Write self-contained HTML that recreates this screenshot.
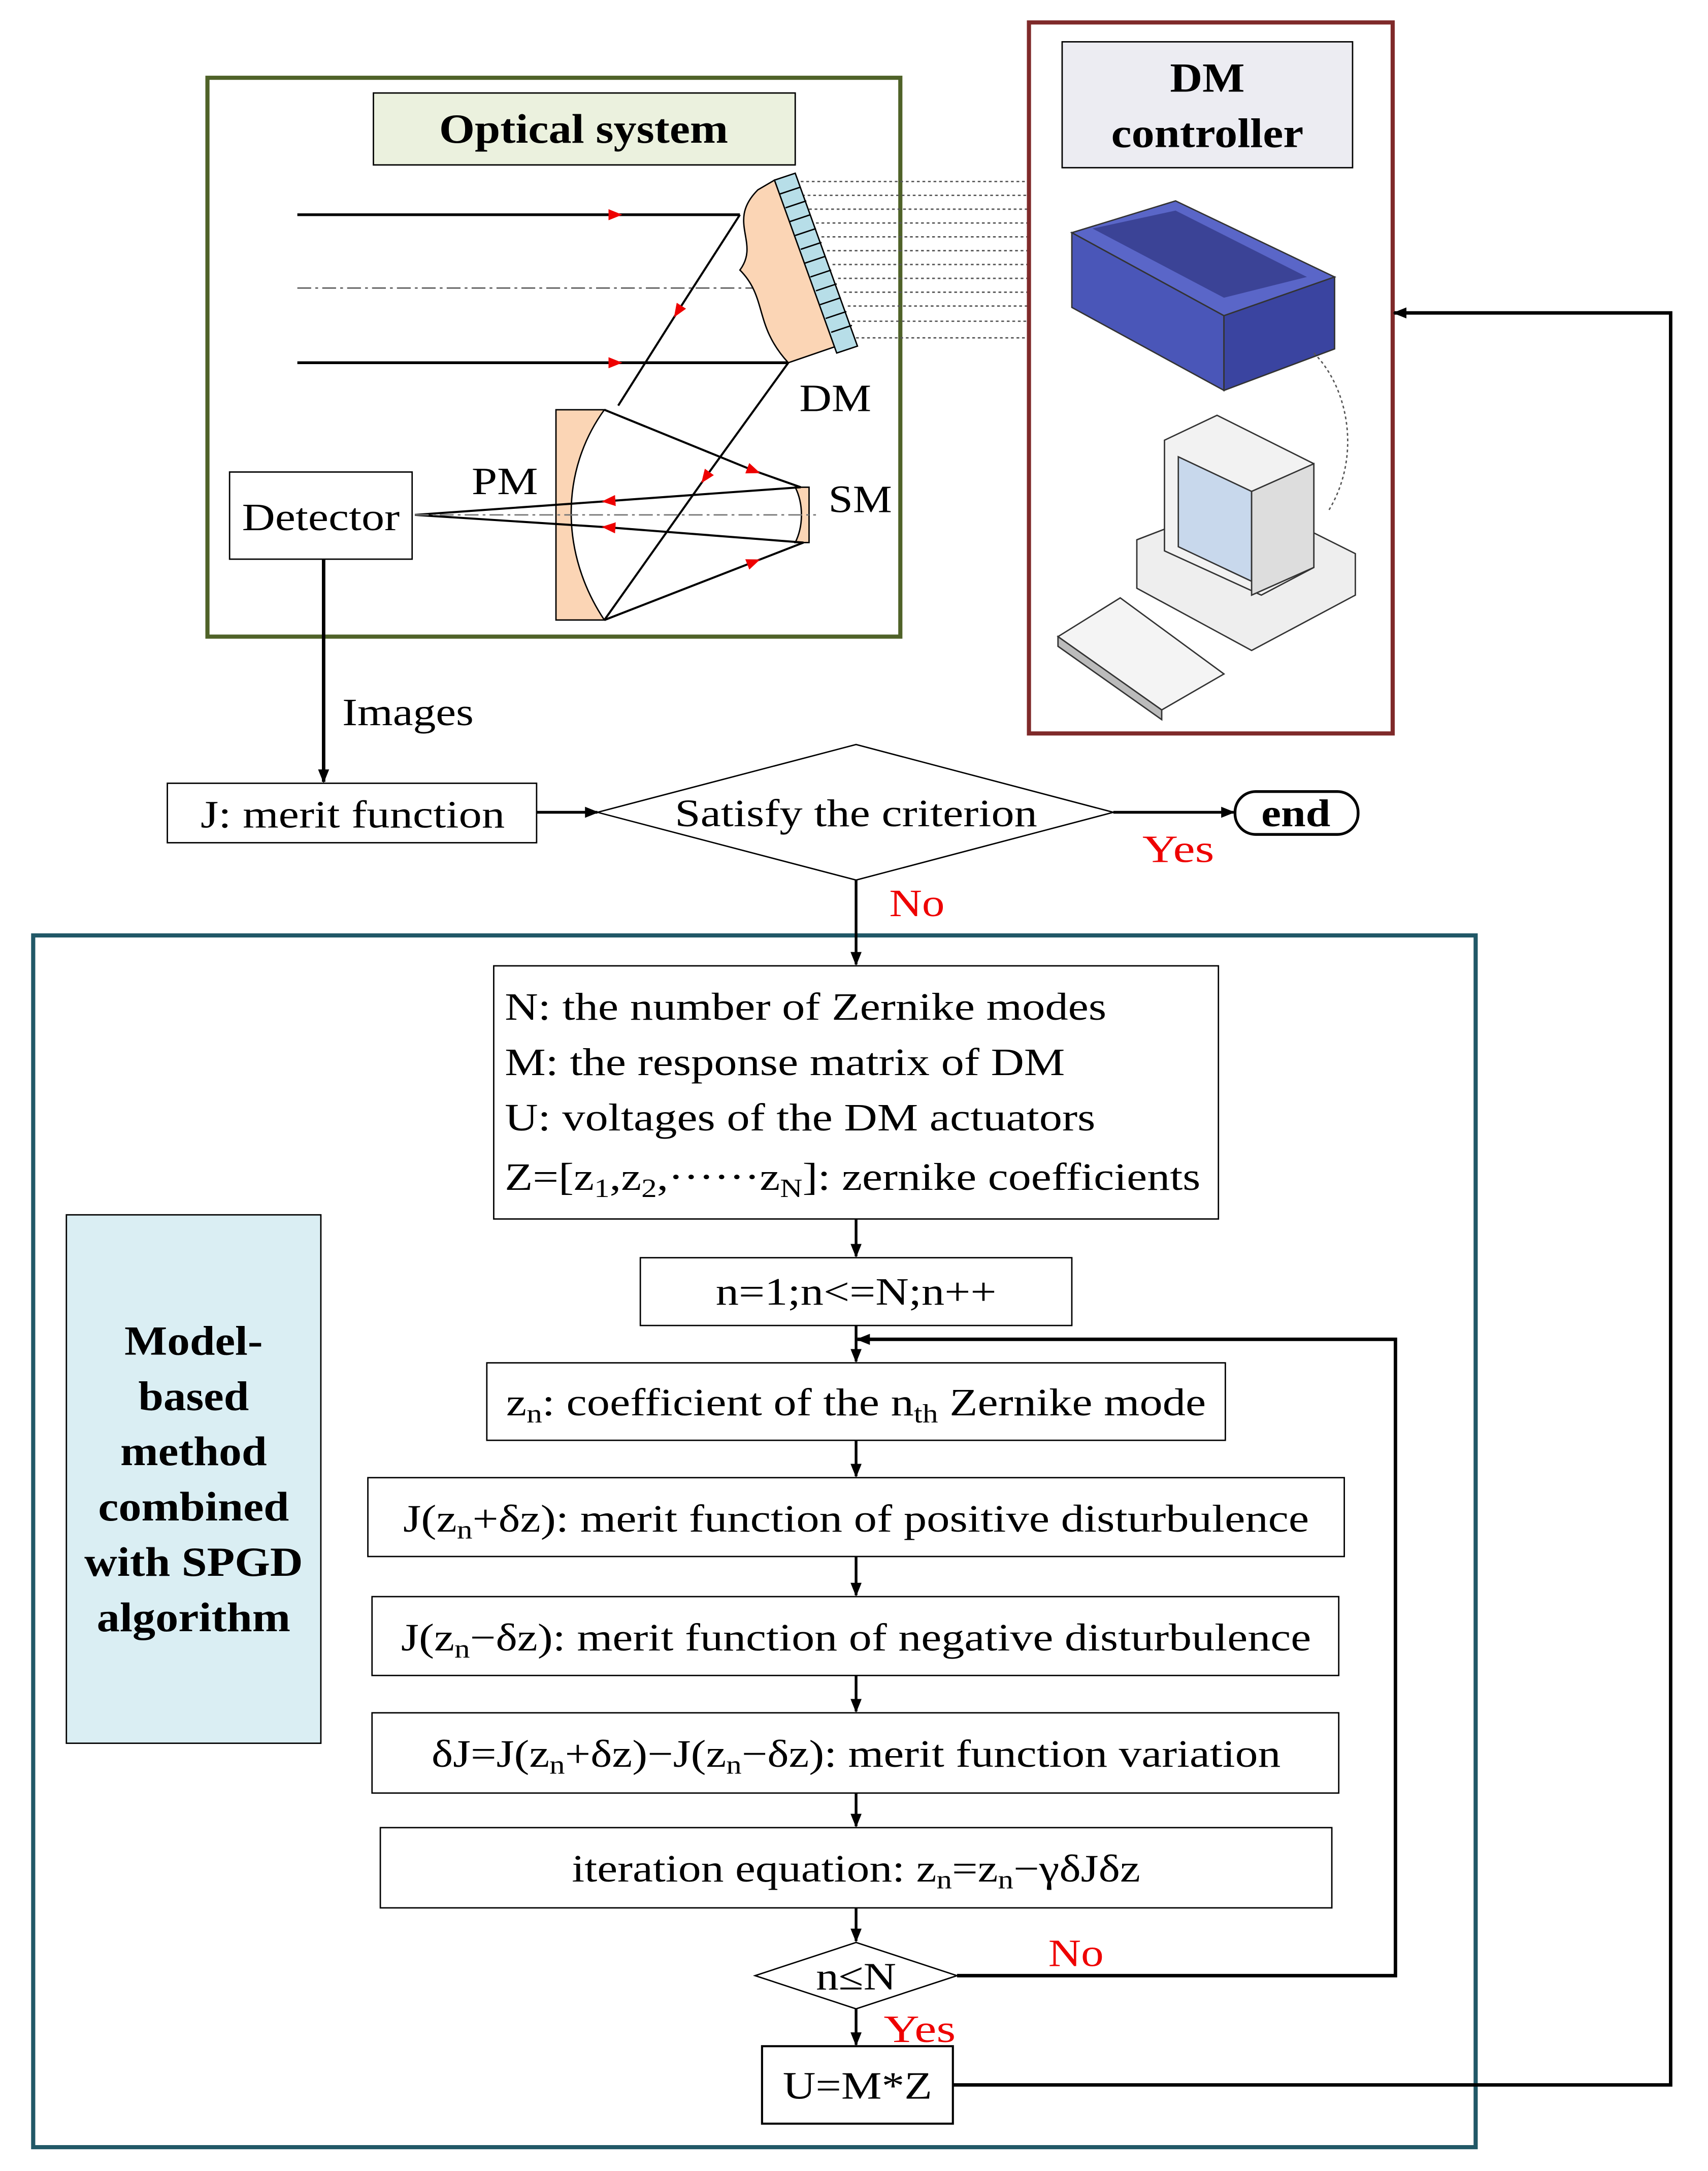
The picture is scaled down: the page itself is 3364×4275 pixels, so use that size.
<!DOCTYPE html>
<html><head><meta charset="utf-8"><style>
html,body{margin:0;padding:0;background:#fff}
svg{display:block}
text{font-family:"Liberation Serif",serif}
</style></head><body>
<svg width="3364" height="4275" viewBox="0 0 1235 1569" xmlns="http://www.w3.org/2000/svg">
<defs>
<marker id="a" markerWidth="10" markerHeight="10" refX="9" refY="5" orient="auto" markerUnits="userSpaceOnUse"><path d="M0,1 L10,5 L0,9 z" fill="#000"/></marker>
<marker id="r" markerWidth="10" markerHeight="8" refX="5" refY="4" orient="auto" markerUnits="userSpaceOnUse"><path d="M0,0 L10,4 L0,8 z" fill="#e00"/></marker>
</defs>
<rect width="1235" height="1569" fill="#fff"/>
<rect x="150" y="56" width="501" height="404" fill="none" stroke="#4f6228" stroke-width="3"/>
<rect x="270" y="67" width="305" height="52" fill="#ebf1de" stroke="#000" stroke-width="1"/>
<text x="422" y="103" font-size="30" font-weight="bold" text-anchor="middle" textLength="209" lengthAdjust="spacingAndGlyphs">Optical system</text>
<g stroke="#555" stroke-width="1" stroke-dasharray="2,2">
<line x1="575" y1="131" x2="744" y2="131"/><line x1="580" y1="141" x2="744" y2="141"/><line x1="585" y1="151" x2="744" y2="151"/><line x1="590" y1="161" x2="744" y2="161"/><line x1="594" y1="171" x2="744" y2="171"/><line x1="598" y1="181" x2="744" y2="181"/><line x1="602" y1="191" x2="744" y2="191"/><line x1="606" y1="201" x2="744" y2="201"/><line x1="610" y1="211" x2="744" y2="211"/><line x1="613" y1="221" x2="744" y2="221"/><line x1="616" y1="232" x2="744" y2="232"/><line x1="619" y1="244" x2="744" y2="244"/>
</g>
<path d="M215,155 L445,155 L535,155" fill="none" stroke="#000" stroke-width="2" marker-mid="url(#r)"/>
<path d="M215,262 L445,262 L570,262" fill="none" stroke="#000" stroke-width="2" marker-mid="url(#r)"/>
<line x1="215" y1="208" x2="560" y2="208" stroke="#555" stroke-width="1" stroke-dasharray="10,3,2,3"/>
<path d="M548,137 C525,160 550,175 535,195 C555,215 545,235 570,262 L605,250 L560,130 z" fill="#fbd5b5" stroke="#000"/>
<path d="M560,130 L575,125 L620,250 L605,255 z" fill="#b7dee8" stroke="#000"/>
<g stroke="#000" stroke-width="1">
<line x1="564" y1="140" x2="579" y2="135"/><line x1="568" y1="150" x2="583" y2="145"/><line x1="571" y1="160" x2="586" y2="155"/><line x1="575" y1="170" x2="590" y2="165"/><line x1="579" y1="180" x2="594" y2="175"/><line x1="582" y1="190" x2="597" y2="185"/><line x1="586" y1="200" x2="601" y2="195"/><line x1="590" y1="210" x2="605" y2="205"/><line x1="593" y1="220" x2="608" y2="215"/><line x1="597" y1="230" x2="612" y2="225"/><line x1="601" y1="240" x2="616" y2="235"/></g>
<path d="M402,296 L437,296 C405,340 405,400 437,448 L402,448 z" fill="#fbd5b5" stroke="#000"/>
<path d="M575,352 L585,352 L585,392 L575,392 C581,380 581,364 575,352 z" fill="#fbd5b5" stroke="#000"/>
<g stroke="#000" stroke-width="1.5" fill="none">
<path d="M535,155 L490,225 L447,293" marker-mid="url(#r)"/>
<path d="M570,262 L510,345 L437,448" marker-mid="url(#r)"/>
<path d="M437,296 L545,340 L579,352" marker-mid="url(#r)"/>
<path d="M437,448 L545,406 L581,392" marker-mid="url(#r)"/>
<path d="M579,352 L440,362 L300,372" marker-mid="url(#r)"/>
<path d="M581,392 L440,381 L300,372" marker-mid="url(#r)"/>
<line x1="300" y1="372" x2="590" y2="372" stroke="#777" stroke-width="1" stroke-dasharray="10,3,2,3"/>
</g>
<rect x="166" y="341" width="132" height="63" fill="#fff" stroke="#000"/>
<text x="232" y="383" font-size="28" text-anchor="middle" textLength="114" lengthAdjust="spacingAndGlyphs">Detector</text>
<text x="604" y="297" font-size="28" text-anchor="middle" textLength="52" lengthAdjust="spacingAndGlyphs">DM</text>
<text x="365" y="357" font-size="28" text-anchor="middle" textLength="48" lengthAdjust="spacingAndGlyphs">PM</text>
<text x="622" y="370" font-size="28" text-anchor="middle" textLength="46" lengthAdjust="spacingAndGlyphs">SM</text>
<rect x="744" y="16" width="263" height="514" fill="none" stroke="#7f2a2a" stroke-width="3"/>
<rect x="768" y="30" width="210" height="91" fill="#ececf2" stroke="#000"/>
<text x="873" y="66" font-size="30" font-weight="bold" text-anchor="middle" textLength="54" lengthAdjust="spacingAndGlyphs">DM</text>
<text x="873" y="106" font-size="30" font-weight="bold" text-anchor="middle" textLength="139" lengthAdjust="spacingAndGlyphs">controller</text>
<path d="M775,168 L850,145 L965,200 L885,228 z" fill="#5a66c8" stroke="#333"/>
<path d="M775,168 L885,228 L885,282 L775,222 z" fill="#4a56b8" stroke="#333"/>
<path d="M885,228 L965,200 L965,252 L885,282 z" fill="#3a44a0" stroke="#333"/>
<path d="M790,165 L850,152 L945,200 L885,215 z" fill="#2e3580" opacity="0.7"/>
<path d="M950,255 C975,280 985,330 960,370" fill="none" stroke="#555" stroke-dasharray="2,2"/>
<path d="M822,390 L900,360 L980,400 L980,430 L905,470 L822,425 z" fill="#eee" stroke="#333"/>
<path d="M842,318 L880,300 L950,335 L950,410 L912,430 L842,398 z" fill="#f2f2f2" stroke="#333"/>
<path d="M852,330 L905,355 L905,420 L852,395 z" fill="#c8d8ec" stroke="#333"/>
<path d="M905,355 L950,335 L950,410 L905,430 z" fill="#ddd" stroke="#333"/>
<path d="M765,460 L810,432 L885,487 L840,513 z" fill="#f4f4f4" stroke="#333"/>
<path d="M765,460 L840,513 L840,520 L765,467 z" fill="#bbb" stroke="#333"/>
<line x1="234" y1="404" x2="234" y2="565" stroke="#000" stroke-width="2.5" marker-end="url(#a)"/>
<text x="295" y="524" font-size="28" text-anchor="middle" textLength="95" lengthAdjust="spacingAndGlyphs">Images</text>
<rect x="121" y="566" width="267" height="43" fill="#fff" stroke="#000"/>
<text x="255" y="598" font-size="28" text-anchor="middle" textLength="220" lengthAdjust="spacingAndGlyphs">J: merit function</text>
<line x1="388" y1="587" x2="432" y2="587" stroke="#000" stroke-width="2" marker-end="url(#a)"/>
<path d="M432,587 L619,538 L805,587 L619,636 z" fill="#fff" stroke="#000"/>
<text x="619" y="597" font-size="28" text-anchor="middle" textLength="262" lengthAdjust="spacingAndGlyphs">Satisfy the criterion</text>
<line x1="805" y1="587" x2="892" y2="587" stroke="#000" stroke-width="2" marker-end="url(#a)"/>
<rect x="893" y="572" width="89" height="31" rx="15" fill="#fff" stroke="#000" stroke-width="2"/>
<text x="937" y="597" font-size="28" font-weight="bold" text-anchor="middle" textLength="50" lengthAdjust="spacingAndGlyphs">end</text>
<text x="852" y="623" font-size="28" fill="#e00" text-anchor="middle" textLength="52" lengthAdjust="spacingAndGlyphs">Yes</text>
<text x="663" y="662" font-size="28" fill="#e00" text-anchor="middle" textLength="40" lengthAdjust="spacingAndGlyphs">No</text>
<rect x="24" y="676" width="1043" height="876" fill="none" stroke="#215867" stroke-width="3"/>
<line x1="619" y1="636" x2="619" y2="697" stroke="#000" stroke-width="2" marker-end="url(#a)"/>
<rect x="357" y="698" width="524" height="183" fill="#fff" stroke="#000"/>
<g font-size="28">
<text x="365" y="737" textLength="435" lengthAdjust="spacingAndGlyphs">N: the number of Zernike modes</text>
<text x="365" y="777" textLength="405" lengthAdjust="spacingAndGlyphs">M: the response matrix of DM</text>
<text x="365" y="817" textLength="427" lengthAdjust="spacingAndGlyphs">U: voltages of the DM actuators</text>
<text x="365" y="860" textLength="503" lengthAdjust="spacingAndGlyphs">Z=[z<tspan font-size="19" dy="5">1</tspan><tspan dy="-5">,z</tspan><tspan font-size="19" dy="5">2</tspan><tspan dy="-5">,······z</tspan><tspan font-size="19" dy="5">N</tspan><tspan dy="-5">]: zernike coefficients</tspan></text>
</g>
<line x1="619" y1="881" x2="619" y2="908" stroke="#000" stroke-width="2" marker-end="url(#a)"/>
<rect x="463" y="909" width="312" height="49" fill="#fff" stroke="#000"/>
<text x="619" y="943" font-size="28" text-anchor="middle" textLength="203" lengthAdjust="spacingAndGlyphs">n=1;n&lt;=N;n++</text>
<line x1="619" y1="958" x2="619" y2="984" stroke="#000" stroke-width="2" marker-end="url(#a)"/>
<rect x="48" y="878" width="184" height="382" fill="#daeef3" stroke="#000"/>
<g font-size="30" font-weight="bold" text-anchor="middle" lengthAdjust="spacingAndGlyphs">
<text x="140" y="979" textLength="100" lengthAdjust="spacingAndGlyphs">Model-</text><text x="140" y="1019" textLength="80" lengthAdjust="spacingAndGlyphs">based</text><text x="140" y="1059" textLength="106" lengthAdjust="spacingAndGlyphs">method</text><text x="140" y="1099" textLength="138" lengthAdjust="spacingAndGlyphs">combined</text><text x="140" y="1139" textLength="158" lengthAdjust="spacingAndGlyphs">with SPGD</text><text x="140" y="1179" textLength="140" lengthAdjust="spacingAndGlyphs">algorithm</text></g>
<rect x="352" y="985" width="534" height="56" fill="#fff" stroke="#000"/>
<text x="619" y="1023" font-size="28" text-anchor="middle" textLength="506" lengthAdjust="spacingAndGlyphs">z<tspan font-size="19" dy="5">n</tspan><tspan dy="-5">: coefficient of the n</tspan><tspan font-size="19" dy="5">th</tspan><tspan dy="-5"> Zernike mode</tspan></text>
<line x1="619" y1="1041" x2="619" y2="1067" stroke="#000" stroke-width="2" marker-end="url(#a)"/>
<rect x="266" y="1068" width="706" height="57" fill="#fff" stroke="#000"/>
<text x="619" y="1107" font-size="28" text-anchor="middle" textLength="655" lengthAdjust="spacingAndGlyphs">J(z<tspan font-size="19" dy="5">n</tspan><tspan dy="-5">+δz): merit function of positive disturbulence</tspan></text>
<line x1="619" y1="1125" x2="619" y2="1153" stroke="#000" stroke-width="2" marker-end="url(#a)"/>
<rect x="269" y="1154" width="699" height="57" fill="#fff" stroke="#000"/>
<text x="619" y="1193" font-size="28" text-anchor="middle" textLength="658" lengthAdjust="spacingAndGlyphs">J(z<tspan font-size="19" dy="5">n</tspan><tspan dy="-5">−δz): merit function of negative disturbulence</tspan></text>
<line x1="619" y1="1211" x2="619" y2="1237" stroke="#000" stroke-width="2" marker-end="url(#a)"/>
<rect x="269" y="1238" width="699" height="58" fill="#fff" stroke="#000"/>
<text x="619" y="1277" font-size="28" text-anchor="middle" textLength="614" lengthAdjust="spacingAndGlyphs">δJ=J(z<tspan font-size="19" dy="5">n</tspan><tspan dy="-5">+δz)−J(z</tspan><tspan font-size="19" dy="5">n</tspan><tspan dy="-5">−δz): merit function variation</tspan></text>
<line x1="619" y1="1296" x2="619" y2="1320" stroke="#000" stroke-width="2" marker-end="url(#a)"/>
<rect x="275" y="1321" width="688" height="58" fill="#fff" stroke="#000"/>
<text x="619" y="1360" font-size="28" text-anchor="middle" textLength="411" lengthAdjust="spacingAndGlyphs">iteration equation: z<tspan font-size="19" dy="5">n</tspan><tspan dy="-5">=z</tspan><tspan font-size="19" dy="5">n</tspan><tspan dy="-5">−γδJδz</tspan></text>
<line x1="619" y1="1379" x2="619" y2="1403" stroke="#000" stroke-width="2" marker-end="url(#a)"/>
<path d="M546,1428 L619,1404 L692,1428 L619,1452 z" fill="#fff" stroke="#000"/>
<text x="619" y="1438" font-size="28" text-anchor="middle" textLength="58" lengthAdjust="spacingAndGlyphs">n≤N</text>
<path d="M692,1428 L1009,1428 L1009,968 L620,968" fill="none" stroke="#000" stroke-width="2.5" marker-end="url(#a)"/>
<text x="778" y="1421" font-size="28" fill="#e00" text-anchor="middle" textLength="40" lengthAdjust="spacingAndGlyphs">No</text>
<line x1="619" y1="1452" x2="619" y2="1478" stroke="#000" stroke-width="2" marker-end="url(#a)"/>
<text x="665" y="1476" font-size="28" fill="#e00" text-anchor="middle" textLength="52" lengthAdjust="spacingAndGlyphs">Yes</text>
<rect x="551" y="1479" width="138" height="56" fill="#fff" stroke="#000" stroke-width="1.5"/>
<text x="620" y="1517" font-size="28" text-anchor="middle" textLength="108" lengthAdjust="spacingAndGlyphs">U=M*Z</text>
<path d="M689,1507 L1208,1507 L1208,226 L1008,226" fill="none" stroke="#000" stroke-width="2.5" marker-end="url(#a)"/>
</svg>
</body></html>
